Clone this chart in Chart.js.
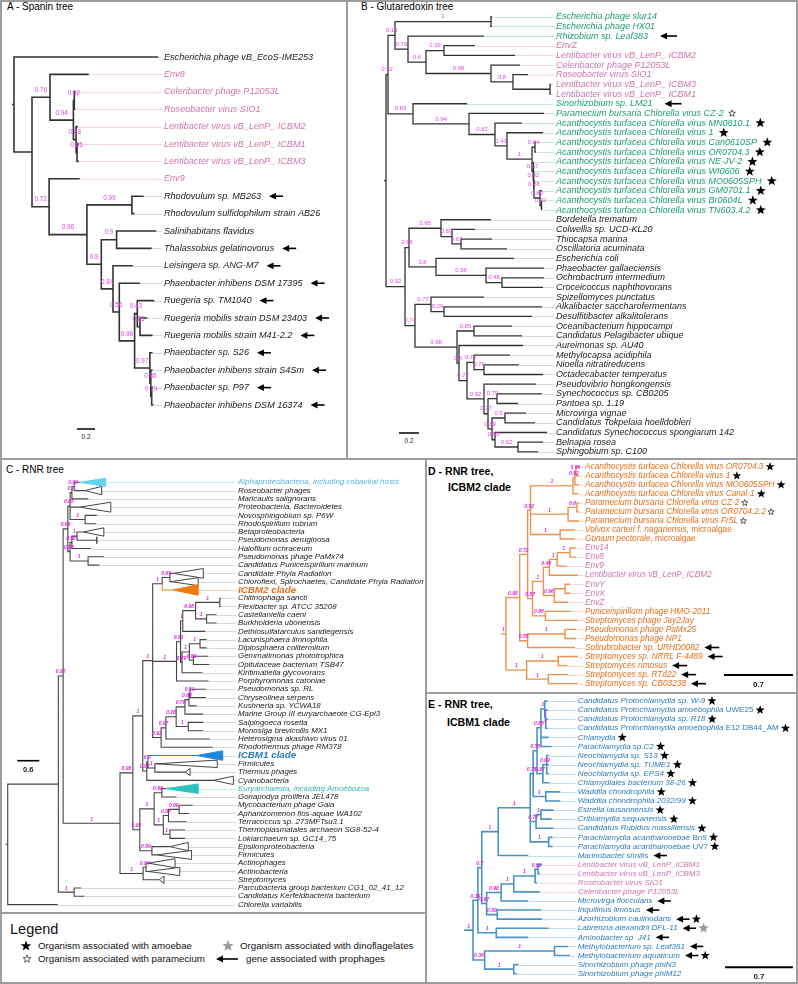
<!DOCTYPE html>
<html>
<head>
<meta charset="utf-8">
<script src="https://cdn.jsdelivr.net/npm/chart.js@4.4.1/dist/chart.umd.min.js"></script>
<style>
  html, body { margin: 0; background: #fff; }
  #fig { position: relative; width: 798px; height: 984px; overflow: hidden; font-family: "Liberation Sans", Arial, sans-serif; }
  #fig canvas { position: absolute; left: 0; top: 0; }
  .ln { position: absolute; background: #9d9d9d; }
  .tt { position: absolute; white-space: nowrap; color: #000; font-size: 10px; line-height: 12px; }
  .bd { font-weight: bold; font-size: 10.6px; }
  .lg { position: absolute; white-space: nowrap; color: #111; font-size: 9.7px; line-height: 12px; }
</style>
</head>
<body>
<div id="fig">
  <div style="position:absolute;left:0;top:0;width:798px;height:984px;border:2px solid #9d9d9d;box-sizing:border-box"></div>
  <div class="ln" style="left:346px;top:0;width:2px;height:460px"></div>
  <div class="ln" style="left:0;top:458px;width:798px;height:2px"></div>
  <div class="ln" style="left:425px;top:459px;width:2px;height:525px"></div>
  <div class="ln" style="left:426px;top:692px;width:372px;height:2px"></div>
  <div class="ln" style="left:0;top:912px;width:426px;height:2px"></div>

  <div class="tt" style="left:7px;top:1px">A - Spanin tree</div>
  <div class="tt" style="left:361px;top:1px">B - Glutaredoxin tree</div>
  <div class="tt" style="left:6px;top:464px">C - RNR tree</div>
  <div class="tt bd" style="left:428px;top:465px">D - RNR tree,</div>
  <div class="tt bd" style="left:448px;top:481px">ICBM2 clade</div>
  <div class="tt bd" style="left:428px;top:698px">E - RNR tree,</div>
  <div class="tt bd" style="left:447px;top:716px">ICBM1 clade</div>

  <div class="lg" style="left:10px;top:921px;font-size:14.5px;line-height:17px">Legend</div>
  <div class="lg" style="left:38px;top:940px">Organism associated with amoebae</div>
  <div class="lg" style="left:240px;top:940px">Organism associated with dinoflagelates</div>
  <div class="lg" style="left:38px;top:953px">Organism associated with paramecium</div>
  <div class="lg" style="left:246px;top:953px">gene associated with prophages</div>
</div>
<script>
// ---------- A : Spanin tree ----------
const aNames = ['Escherichia phage vB_EcoS-IME253', 'Env8', 'Celeribacter phage P12053L', 'Roseobacter virus SIO1',
  'Lentibacter virus vB_LenP_ ICBM2', 'Lentibacter virus vB_LenP_ ICBM1', 'Lentibacter virus vB_LenP_ ICBM3', 'Env9',
  'Rhodovulum sp. MB263', 'Rhodovulum sulfidophilum strain AB26', 'Salinihabitans flavidus', 'Thalassobius gelatinovorus',
  'Leisingera sp. ANG-M7', 'Phaeobacter inhibens DSM 17395', 'Ruegeria sp. TM1040', 'Ruegeria mobilis strain DSM 23403',
  'Ruegeria mobilis strain M41-2.2', 'Phaeobacter sp. S26', 'Phaeobacter inhibens strain S4Sm', 'Phaeobacter sp. P97',
  'Phaeobacter inhibens DSM 16374'];
const aTipX = [1.60, 0.83, 0.68, 0.68, 0.71, 0.72, 0.72, 0.73, 1.44, 1.34, 1.58, 1.53, 1.32, 1.40, 1.56, 1.48, 1.54, 1.54, 1.54, 1.54, 1.55];
const aColor = 'k p p p p p p p k k k k k k k k k k k k k'.split(' ');
const aMark = ['', '', '', '', '', '', '', '', 'a', '', '', 'a', 'a', 'a', 'a', 'a', 'a', 'a', 'a', 'a', 'a'];
const aTree =
  [0, '', 0,
    [0.2, '',
      [0.4, '0.76', 1,
        [0.66, '0.94',
          [0.67, '0.92', 2, 3],
          [0.69, '0.83', 4, [0.70, '0.85', 5, 6]]]],
      [0.39, '0.72', 7,
        [0.81, '0.96',
          [1.31, '0.99', 8, 9],
          [0.97, '0.8',
            [1.14, '0.9', 10, 11],
            [1.10, '0.84', 12,
              [1.17, '0.56', 13,
                [1.34, '0.98',
                  [1.37, '0.43', 14, [1.40, '0.55', 15, 16]],
                  [1.51, '0.97', 17, [1.52, '0.86', 18, [1.53, '0.79', 19, 20]]]]]]]]]]];

// ---------- B : Glutaredoxin tree ----------
const bNames = ['Escherichia phage slur14', 'Escherichia phage HX01', 'Rhizobium sp. Leaf383', 'EnvZ',
  'Lentibacter virus vB_LenP_ ICBM2', 'Celeribacter phage P12053L', 'Roseobacter virus SIO1',
  'Lentibacter virus vB_LenP_ ICBM3', 'Lentibacter virus vB_LenP_ ICBM1', 'Sinorhizobium sp. LM21',
  'Paramecium bursaria Chlorella virus CZ-2', 'Acanthocystis turfacea Chlorella virus MN0810.1',
  'Acanthocystis turfacea Chlorella virus 1', 'Acanthocystis turfacea Chlorella virus Can0610SP',
  'Acanthocystis turfacea Chlorella virus OR0704.3', 'Acanthocystis turfacea Chlorella virus NE-JV-2',
  'Acanthocystis turfacea Chlorella virus WI0606', 'Acanthocystis turfacea Chlorella virus MO0605SPH',
  'Acanthocystis turfacea Chlorella virus GM0701.1', 'Acanthocystis turfacea Chlorella virus Br0604L',
  'Acanthocystis turfacea Chlorella virus TN603.4.2', 'Bordetella trematum', 'Colwellia sp. UCD-KL20',
  'Thiocapsa marina', 'Oscillatoria acuminata', 'Escherichia coli', 'Phaeobacter gallaeciensis',
  'Ochrobactrum intermedium', 'Croceicoccus naphthovorans', 'Spizellomyces punctatus',
  'Alkalibacter saccharofermentans', 'Desulfitibacter alkalitolerans', 'Oceanibacterium hippocampi',
  'Candidatus Pelagibacter ubique', 'Aureimonas sp. AU40', 'Methylocapsa acidiphila', 'Nioella nitratireducens',
  'Octadecabacter temperatus', 'Pseudovibrio hongkongensis', 'Synechococcus sp. CB0205', 'Pantoea sp. 1.19',
  'Microvirga vignae', 'Candidatus Tokpelaia hoelldobleri', 'Candidatus Synechococcus spongiarum 142',
  'Belnapia rosea', 'Sphingobium sp. C100'];
const bTipX = [1.06, 1.06, 0.98, 0.89, 1.29, 1.34, 1.42, 1.65, 1.65, 0.81,
  1.58, 1.36, 1.57, 1.50, 1.50, 1.48, 1.48, 1.49, 1.56, 1.56, 1.56,
  1.05, 0.89, 1.06, 1.21, 1.28, 1.58, 1.58, 1.57,
  0.98, 1.56, 1.46, 1.26, 1.36, 1.37, 1.24, 1.33, 1.57,
  1.50, 1.56, 1.32, 1.40, 1.49, 1.61, 1.57, 1.52];
const bColor = ('g g g p p p p p p g g g g g g g g g g g g ' +
  'k k k k k k k k k k k k k k k k k k k k k k k k k').split(' ');
const bMark = ['', '', 'a', '', '', '', '', '', '', 'a', 'o', 's', 's', 's', 's', 's', 's', 's', 's', 's', 's'];
const bTree =
  [0, '',
    [0.02, '0.92',
      [0.09, '0.18',
        [1.05, '1', 0, 1],
        [0.22, '0.79', 2,
          [0.40, '0.6',
            [0.58, '0.39', 3, 4],
            [1.05, '0.98', 5, [1.27, '0.8', 6, [1.64, '', 7, 8]]]]]],
      [0.27, '0.83', 9,
        [0.83, '0.94', 10,
          [1.09, '0.82', 11,
            [1.21, '0.41', 12,
              [1.46, '1',
                [1.49, '0.84', 13, 14],
                [1.47, '0.67', 15,
                  [1.475, '0.92', 16,
                    [1.48, '0.28', 17,
                      [1.54, '0.86', 18, [1.55, '0.52', 19, 20]]]]]]]]]]],
    [0.19, '0.92',
      [0.23, '0.66',
        [0.55, '0.95', 21, [0.66, '0.69', 22, [0.75, '0.67', 23, 24]]],
        [0.50, '0.8', 25, [1.00, '0.96', 26, [1.16, '0.48', 27, 28]]]],
      [0.29, '0.74',
        [0.45, '0.77', 29, [0.58, '0.29', 30, 31]],
        [0.71, '0.98',
          [0.88, '0.85', 32, 33],
          [0.73, '0.8', 34,
            [0.81, '0.77',
              [0.88, '0.76', 35, [0.98, '0.76', 36, 37]],
              [0.98, '0.92', 38,
                [1.02, '0.77',
                  [1.11, '0.79', 39, 40],
                  [1.06, '0.89',
                    [1.19, '0.9', 41, 42],
                    [1.09, '0.95', 43, [1.32, '0.92', 44, 45]]]]]]]]]]];

// ---------- C : RNR tree ----------
const cNames = ['Alphaproteobacteria, including cobaviral hosts', 'Roseobacter phages', 'Maricaulis salignorans',
  'Proteobacteria, Bacteroidetes', 'Novosphingobium sp. P6W', 'Rhodospirillum rubrum', 'Betaproteobacteria',
  'Pseudomonas aeruginosa', 'Halofilum ochraceum', 'Pseudomonas phage PaMx74', 'Candidatus Puniceispirillum marinum',
  'Candidate Phyla Radiation', 'Chloroflexi, Spirochaetes, Candidate Phyla Radiation', 'ICBM2 clade',
  'Chitinophaga sancti', 'Flexibacter sp. ATCC 35208', 'Castellaniella caeni', 'Burkholderia ubonensis',
  'Dethiosulfatarculus sandiegensis', 'Lacunisphaera limnophila', 'Diplosphaera colitermitum',
  'Gemmatimonas phototrophica', 'Opitutaceae bacterium TSB47', 'Kiritimatiella glycovorans', 'Porphyromonas catoniae',
  'Pseudomonas sp. RL', 'Chryseolinea serpens', 'Kushneria sp. YCWA18', 'Marine Group III euryarchaeote CG-Epi3',
  'Salpingoeca rosetta', 'Monosiga brevicollis MX1', 'Heterosigma akashiwo virus 01', 'Rhodothermus phage RM378',
  'ICBM1 clade', 'Firmicutes', 'Thermus phages', 'Cyanobacteria', 'Euryarchaeota, including Amoebozoa',
  'Gonapodya prolifera JEL478', 'Mycobacterium phage Gaia', 'Aphanizomenon flos-aquae WA102',
  'Terracoccus sp. 273MFTsu3.1', 'Thermoplasmatales archaeon SG8-52-4', 'Lokiarchaeum sp. GC14_75',
  'Epsilonproteobacteria', 'Firmicutes', 'Actinophages', 'Actinobacteria', 'Streptomyces',
  'Parcubacteria group bacterium CG1_02_41_12', 'Candidatus Kerfeldbacteria bacterium', 'Chlorella variabilis'];
const cTipX = [1.97, 2.11, 2.20, 1.97, 2.43, 2.41, 2.06, 2.42, 2.27, 2.62,
  2.50, 4.51, 4.45, 4.51, 5.81, 5.81, 5.69, 5.69, 5.38, 5.42,
  5.42, 5.47, 5.49, 5.31, 5.47, 5.40, 5.40, 5.15, 5.33, 5.33,
  5.33, 5.51, 5.59, 5.15, 4.04, 4.83, 5.60, 4.31, 4.60, 5.04,
  4.94, 4.88, 4.83, 4.83, 4.42, 4.06, 3.83, 3.83, 4.13, 2.00,
  2.09, 1.36];
const cColor = cNames.map((n, i) => ({0: 'c', 13: 'o', 33: 'b', 37: 't'})[i] || 'k');
// collapsed clades: [leaf, far edge of wedge, half height in rows]
const cCollapsed = [[0, 2.67, 0.5], [1, 2.56, 0.5], [3, 2.81, 0.6], [6, 2.62, 0.5], [7, 2.43, 0.42],
  [11, 5.33, 0.58], [12, 5.19, 0.48], [13, 5.19, 0.64], [33, 5.86, 0.57], [34, 5.71, 0.45], [35, 4.97, 0.42],
  [36, 6.15, 0.5], [37, 5.19, 0.57], [44, 4.92, 0.5], [45, 5.01, 0.54], [46, 4.56, 0.54], [47, 4.69, 0.5],
  [48, 4.26, 0.45]];
const cTree =
  [0, '',
    [1.38, '',
      [1.51, '0.92',
        [1.64, '0.98',
          [1.70, '0.85', [1.75, '0.7', [1.81, '0.99', 0, 1], 2], 3, [2.11, '1', 4, 5]],
          [1.70, '0.98', [1.75, '0.98', [1.89, '1', 6, 7], 8], [2.19, '1', 9, 10]]],
        [3.06, '1',
          [3.41, '0.98',
            [3.68, '1',
              [3.95, '1',
                [4.21, '1', [4.42, '0.99', 11, 12], 13],
                [4.60, '1',
                  [4.71, '0.33',
                    [4.77, '1', [5.12, '0.98', [5.78, '1', 14, 15], [5.42, '1', 16, 17]], 18],
                    [4.75, '0.79', [4.95, '1', [5.24, '1', 19, 20], [5.06, '0.89', 21, 22]], 23]],
                  24],
                [4.18, '0.92',
                  [4.31, '0.97',
                    [4.59, '0.28',
                      [4.83, '0.76', [4.94, '0.65', [4.97, '0.51', 25, 26], 27], 28],
                      [4.92, '1', 29, 30]],
                    31],
                  32]],
              [3.79, '0.97',
                [3.82, '0.8', 33, [4.01, '1', 34, 35]],
                36]],
            [3.60, '0.98',
              [3.99, '1',
                [4.20, '0.98', 37, 38],
                [4.24, '1',
                  [4.38, '0.93', [4.67, '0.96', 39, 40], 41],
                  [4.42, '1', 42, 43]]],
              [3.93, '0.99', 44, 45]]],
          [3.69, '1', [3.77, '0.94', 46, 47], 48]]],
      [1.81, '1', 49, 50]],
    51];

// ---------- D : RNR tree, ICBM2 clade ----------
const dNames = ['Acanthocystis turfacea Chlorella virus OR0704.3', 'Acanthocystis turfacea Chlorella virus 1',
  'Acanthocystis turfacea Chlorella virus MO0605SPH', 'Acanthocystis turfacea Chlorella virus Canal-1',
  'Paramecium bursaria Chlorella virus CZ-2', 'Paramecium bursaria Chlorella virus OR0704.2.2',
  'Paramecium bursaria Chlorella virus Fr5L', 'Volvox carteri f. nagariensis|, microalgae',
  'Gonium pectorale|, microalgae', 'Env14', 'Env8', 'Env9', 'Lentibacter virus vB_LenP_ICBM2', 'EnvY', 'EnvX',
  'EnvZ', 'Puniceispirillum phage HMO-2011', 'Streptomyces phage Jay2Jay', 'Pseudomonas phage PaMx25',
  'Pseudomonas phage NP1', 'Solirubrobacter sp. URHD0082', 'Streptomyces sp. NRRL F-4489', 'Streptomyces rimosus',
  'Streptomyces sp. RTd22', 'Streptomyces sp. CB03238'];
const dTipX = [0.79, 0.79, 0.79, 0.78, 0.79, 0.79, 0.79, 0.75, 0.75, 0.76, 0.76, 0.67, 0.78, 0.70, 0.70,
  0.68, 0.70, 0.78, 0.76, 0.76, 0.75, 0.78, 0.67, 0.68, 0.78];
const dColor = 'o o o o o o o o o p p p p p p p o o o o o o o o o'.split(' ');
const dMark = ['s', 's', 's', 's', 'o', 'o', 'o', '', '', '', '', '', '', '', '', '', '', '', '', '', 'a', 'a', 'a', 'a', 'a'];
const dTree =
  [0, '',
    [0.05, '1',
      [0.19, '0.98',
        [0.27, '0.72',
          [0.30, '0.92',
            [0.73, '1', [0.75, '0.92', [0.76, '0.96', 0, 1], 2], 3],
            [0.68, '1', [0.77, '0.8', 4, 5], 6],
            [0.60, '1', 7, 8]],
          [0.32, '0.87',
            [0.43, '1',
              [0.49, '0.48', [0.57, '1', [0.70, '1', 9, 10], 11], 12],
              [0.54, '0.96', [0.65, '', 13, 14], 15]],
            [0.45, '0.95', 16, 17]]],
        [0.27, '0.55', [0.65, '1', 18, 19], 20]],
      [0.26, '1', [0.58, '1', 21, 22], [0.48, '1', 23, 24]]]];

// ---------- E : RNR tree, ICBM1 clade ----------
const eNames = ['Candidatus Protochlamydia sp. W-9', 'Candidatus Protochlamydia amoebophila| UWE25',
  'Candidatus Protochlamydia sp. R18', 'Candidatus Protochlamydia amoebophila| E12 DB44_AM', 'Chlamydia',
  'Parachlamydia sp.C2', 'Neochlamydia sp. S13', 'Neochlamydia sp. TUME1', 'Neochlamydia sp. EPS4',
  'Chlamydiales bacterium 38-26', 'Waddlia chondrophila', 'Waddlia chondrophila 2032/99', 'Estrella lausannensis',
  'Criblamydia sequanensis', 'Candidatus Rubidus massiliensis', 'Parachlamydia acanthamoebae| Bn9',
  'Parachlamydia acanthamoebae| UV7', 'Marinobacter similis', 'Lentibacter virus vB_LenP_ICBM1',
  'Lentibacter virus vB_LenP_ICBM3', 'Roseobacter virus SIO1', 'Celeribacter phage P12053L', 'Microvirga flocculans',
  'Inquilinus limosus', 'Azorhizobium caulinodans', 'Labrenzia alexandrii DFL-11', 'Aminobacter sp. J41',
  'Methylobacterium sp. Leaf361', 'Methylobacterium aquaticum', 'Sinorhizobium phage phiN3',
  'Sinorhizobium phage phiM12'];
const eTipX = [0.86, 0.86, 0.86, 0.86, 0.87, 0.90, 0.87, 0.87, 0.87, 0.88, 0.99, 0.99, 0.92, 0.90, 0.92, 0.91,
  0.91, 0.66, 0.80, 0.78, 0.75, 0.78, 0.66, 0.79, 0.80, 0.87, 0.66, 1.07, 1.09, 0.56, 0.54];
const eColor = 'b b b b b b b b b b b b b b b b b b p p p p b b b b b b b b b'.split(' ');
const eMark = ['s', 's', 's', 's', 's', 's', 's', 's', 's', 's', 's', 's', 's', 's', 's', 's', 's', 'a',
  '', '', '', '', 'a', 'a', 'as', 'ag', 'a', 'a', 'as', '', ''];
const eTree =
  [0, '',
    [0.09, '1',
      [0.14, '0.19',
        [0.18, '0.7',
          [0.35, '1',
            [0.68, '1',
              [0.71, '0.75',
                [0.75, '0.35',
                  [0.79, '0.88', [0.83, '1', 0, [0.835, '1', 1, [0.84, '1', 2, 3]]], 4, 5],
                  [0.81, '0.97', [0.85, '0.99', 6, 7, 8], 9]],
                [0.84, '1', 10, 11]],
              [0.74, '0.72', [0.79, '1', 12, 13], 14],
              [0.87, '1', 15, 16]],
            17],
          [0.23, '0.97',
            [0.38, '0.98', [0.51, '1', [0.73, '1', [0.76, '0.92', 18, 19], 20], 21], 22],
            [0.34, '0.89', 23, 24]]],
        [0.33, '1', 25, 26]],
      [0.21, '0.36', [0.93, '1', 27, 28], [0.51, '1', 29, 30]]]];

// ---------- drawing ----------
const FONT = '"Liberation Sans", Arial, sans-serif';
const TEXT = { k: '#1a1a1a', p: '#d174aa', g: '#1c9c76', o: '#e2701c', b: '#2b7cbd', c: '#55b3e6', t: '#30b5b0' };
const LIGHT = { k: '#d9d9d9', p: '#f1d7e6', g: '#c6e8db', o: '#f6d5bb', b: '#c4def0', c: '#cde8f6', t: '#c6ebe9' };
const FILL = { c: '#62d2f0', o: '#f07a12', b: '#1f88dc', t: '#2cc2c2' };
const W = 798, H = 984;
const fig = document.getElementById('fig');

function layoutTree(tree, tipX) {
  const nodes = [];
  (function walk(n, parent) {
    if (typeof n === 'number') {
      const o = { x: tipX[n], y: n, leaf: n, parent };
      nodes.push(o);
      return o;
    }
    const o = { x: n[0], sup: n[1], parent, kids: [] };
    nodes.push(o);
    n.slice(2).forEach(k => o.kids.push(walk(k, o)));
    o.y = (o.kids[0].y + o.kids[o.kids.length - 1].y) / 2;
    return o;
  })(tree, null);
  return nodes;
}

function drawStar(ctx, cx, cy, r, kind) {
  ctx.beginPath();
  for (let k = 0; k < 10; k++) {
    const rr = k % 2 ? r * 0.42 : r;
    const a = -Math.PI / 2 + k * Math.PI / 5;
    ctx.lineTo(cx + rr * Math.cos(a), cy + rr * Math.sin(a));
  }
  ctx.closePath();
  if (kind === 'o') { ctx.strokeStyle = '#333'; ctx.lineWidth = 0.8; ctx.stroke(); }
  else { ctx.fillStyle = kind === 'g' ? '#9a9a9a' : '#000'; ctx.fill(); }
}

function drawArrow(ctx, x, y, len) {
  ctx.fillStyle = '#000'; ctx.strokeStyle = '#000'; ctx.lineWidth = 1.6;
  ctx.beginPath(); ctx.moveTo(x + 5, y); ctx.lineTo(x + len, y); ctx.stroke();
  ctx.beginPath(); ctx.moveTo(x, y); ctx.lineTo(x + 7, y - 3.4); ctx.lineTo(x + 7, y + 3.4); ctx.closePath(); ctx.fill();
}

function drawMarks(ctx, m, x, y, s) {
  let cx = x;
  for (const c of m || '') {
    if (c === 'a') { cx += s.aGap; drawArrow(ctx, cx, y, s.aLen); cx += s.aLen; }
    else {
      const r = c === 'o' ? s.rOpen : (c === 'g' ? s.r * 1.15 : s.r);
      cx += s.sGap; drawStar(ctx, cx + r, y, r, c); cx += 2 * r;
    }
  }
}

function treePlugin(p) {
  return {
    id: 'tree' + p.id,
    beforeDatasetsDraw(chart) {
      const { ctx, scales: { x, y } } = chart;
      const base = {};
      (p.collapsed || []).forEach(c => { base[c[0]] = c[1]; });
      ctx.save();
      ctx.lineWidth = 1;
      p.nodes.forEach(n => {
        if (n.leaf === undefined) return;
        const yy = Math.round(y.getPixelForValue(n.leaf)) + 0.5;
        ctx.strokeStyle = LIGHT[p.color[n.leaf]];
        ctx.beginPath();
        ctx.moveTo(x.getPixelForValue(base[n.leaf] !== undefined ? base[n.leaf] : n.x), yy);
        ctx.lineTo(p.labelPx - 2, yy);
        ctx.stroke();
      });
      const root = p.nodes[0];
      if (p.stub) {
        ctx.strokeStyle = p.edge; ctx.lineWidth = p.edgeWidth;
        ctx.beginPath();
        ctx.moveTo(x.getPixelForValue(root.x) - p.stub, y.getPixelForValue(root.y));
        ctx.lineTo(x.getPixelForValue(root.x), y.getPixelForValue(root.y));
        ctx.stroke();
      }
      ctx.restore();
    },
    afterDatasetsDraw(chart) {
      const { ctx, scales: { x, y } } = chart;
      const X = v => x.getPixelForValue(v), Y = v => y.getPixelForValue(v);
      ctx.save();
      (p.collapsed || []).forEach(([i, far, half]) => {
        const ax = X(p.tipX[i]), bx = X(far), yy = Y(i), h = Y(i + half) - yy;
        const code = p.color[i];
        ctx.beginPath(); ctx.moveTo(ax, yy); ctx.lineTo(bx, yy - h); ctx.lineTo(bx, yy + h); ctx.closePath();
        ctx.fillStyle = code === 'k' ? '#fff' : FILL[code];
        ctx.strokeStyle = code === 'k' ? p.edge : FILL[code];
        ctx.lineWidth = 1;
        ctx.fill(); ctx.stroke();
      });
      ctx.fillStyle = p.supColor; ctx.font = p.supFont;
      ctx.textAlign = 'center'; ctx.textBaseline = 'middle';
      p.nodes.forEach(n => {
        if (n.sup && n.parent) ctx.fillText(n.sup, (X(n.parent.x) + X(n.x)) / 2, Y(n.y) - p.supDy);
      });
      ctx.textAlign = 'left';
      p.names.forEach((name, i) => {
        const parts = name.split('|');
        const bold = (p.bold || []).includes(i);
        const yy = Y(i);
        let tx = p.labelPx;
        ctx.fillStyle = TEXT[p.color[i]];
        ctx.font = 'italic ' + (bold ? 'bold ' + p.boldSize : p.size) + 'px ' + FONT;
        ctx.fillText(parts[0], tx, yy);
        tx += ctx.measureText(parts[0]).width;
        if (parts[1]) {
          ctx.font = p.size + 'px ' + FONT;
          ctx.fillText(parts[1], tx, yy);
          tx += ctx.measureText(parts[1]).width;
        }
        if (p.mark) drawMarks(ctx, p.mark[i], tx, yy, p.markStyle);
      });
      const b = p.bar;
      ctx.strokeStyle = '#000'; ctx.lineWidth = b.lw;
      const len = X(b.len) - X(0);
      ctx.beginPath(); ctx.moveTo(b.x, b.y); ctx.lineTo(b.x + len, b.y); ctx.stroke();
      ctx.fillStyle = '#222'; ctx.font = b.font; ctx.textAlign = 'center';
      ctx.fillText(b.label, b.x + len / 2, b.y + b.dy);
      ctx.restore();
    }
  };
}

function makeTree(p) {
  p.nodes = layoutTree(p.tree, p.tipX);
  const groups = {};
  p.nodes.forEach(n => {
    if (!n.parent) return;
    const c = (n.leaf !== undefined && p.leafEdge && p.leafEdge[n.leaf]) || p.edge;
    (groups[c] = groups[c] || []).push(
      { x: n.parent.x, y: n.parent.y }, { x: n.parent.x, y: n.y }, { x: n.x, y: n.y }, { x: null, y: null });
  });
  const datasets = Object.keys(groups).map(c => ({
    data: groups[c], borderColor: c, borderWidth: p.edgeWidth, pointRadius: 0, pointHitRadius: 0,
    spanGaps: false, tension: 0, fill: false
  }));
  const cv = document.createElement('canvas');
  cv.width = W; cv.height = H;
  fig.appendChild(cv);
  new Chart(cv, {
    type: 'line',
    data: { datasets },
    options: {
      responsive: false, animation: false, events: [],
      layout: { padding: 0 },
      plugins: { legend: { display: false }, tooltip: { enabled: false } },
      scales: {
        x: { type: 'linear', display: false, min: -p.rootPx / p.unit, max: (W - p.rootPx) / p.unit },
        y: { type: 'linear', display: false, reverse: true, min: -p.y0 / p.dy, max: (H - p.y0) / p.dy }
      }
    },
    plugins: [treePlugin(p)]
  });
}

makeTree({
  id: 'A', names: aNames, tipX: aTipX, color: aColor, mark: aMark, tree: aTree,
  rootPx: 14, unit: 90, y0: 57, dy: 17.4, labelPx: 164, size: 9.1, stub: 2,
  edge: '#333', edgeWidth: 1.6, supFont: '6.3px ' + FONT, supColor: '#df46df', supDy: 7,
  markStyle: { aGap: 8, aLen: 14, sGap: 6, r: 5, rOpen: 3.5 },
  bar: { x: 77, y: 429, len: 0.2, label: '0.2', font: '6.5px ' + FONT, dy: 8, lw: 1.5 }
});
makeTree({
  id: 'B', names: bNames, tipX: bTipX, color: bColor, mark: bMark, tree: bTree,
  rootPx: 386, unit: 100, y0: 16.7, dy: 9.67, labelPx: 556, size: 9.0, stub: 2,
  edge: '#333', edgeWidth: 1.3, supFont: '5.9px ' + FONT, supColor: '#df46df', supDy: 5,
  markStyle: { aGap: 12, aLen: 17, sGap: 5, r: 5.2, rOpen: 3.6 },
  bar: { x: 399, y: 433, len: 0.2, label: '0.2', font: '6.5px ' + FONT, dy: 8, lw: 1.5 }
});
makeTree({
  id: 'C', names: cNames, tipX: cTipX, color: cColor, tree: cTree, collapsed: cCollapsed, bold: [13, 33],
  leafEdge: { 13: '#e8842c', 33: '#1a8ad8' },
  rootPx: 7.7, unit: 36.7, y0: 482.3, dy: 8.28, labelPx: 238, size: 7.9, boldSize: 9.8, stub: 2,
  edge: '#444', edgeWidth: 1.1, supFont: 'italic bold 5px ' + FONT, supColor: '#dd22dd', supDy: 4,
  bar: { x: 17.3, y: 760.7, len: 0.6, label: '0.6', font: 'bold 7.5px ' + FONT, dy: 9, lw: 1.6 }
});
makeTree({
  id: 'D', names: dNames, tipX: dTipX, color: dColor, mark: dMark, tree: dTree,
  rootPx: 501, unit: 98.6, y0: 466.7, dy: 9.04, labelPx: 585, size: 8.3,
  edge: '#e8934f', edgeWidth: 1.4, supFont: 'italic bold 5px ' + FONT, supColor: '#dd22dd', supDy: 4,
  markStyle: { aGap: 5, aLen: 15, sGap: 2, r: 4.6, rOpen: 3.3 },
  bar: { x: 724, y: 675, len: 0.7, label: '0.7', font: 'bold 8px ' + FONT, dy: 9.5, lw: 2 }
});
makeTree({
  id: 'E', names: eNames, tipX: eTipX, color: eColor, mark: eMark, tree: eTree,
  rootPx: 464.3, unit: 97, y0: 701, dy: 9.09, labelPx: 577.7, size: 8.0,
  edge: '#4a93c6', edgeWidth: 1.6, supFont: 'italic bold 5px ' + FONT, supColor: '#dd22dd', supDy: 4,
  markStyle: { aGap: 5, aLen: 13.5, sGap: 2, r: 4.8, rOpen: 3.3 },
  bar: { x: 725, y: 967.3, len: 0.7, label: '0.7', font: 'bold 8px ' + FONT, dy: 9.5, lw: 2 }
});

// legend symbols
const lg = document.createElement('canvas');
lg.width = W; lg.height = H;
fig.appendChild(lg);
const lctx = lg.getContext('2d');
drawStar(lctx, 26, 946, 5.5, 's');
drawStar(lctx, 228, 946, 6, 'g');
drawStar(lctx, 27, 959, 4, 'o');
drawArrow(lctx, 216, 959, 22);
</script>
</body>
</html>
